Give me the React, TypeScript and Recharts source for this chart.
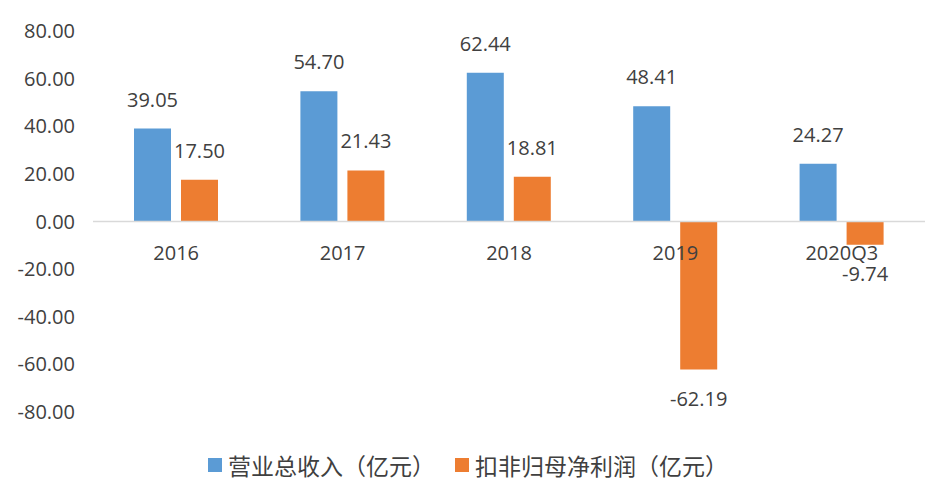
import React from "react"
import {
  BarChart, Bar, XAxis, YAxis, Legend, ReferenceLine, LabelList,
} from "recharts"

const categories = ["2016", "2017", "2018", "2019", "2020Q3"]
const revenue = [39.05, 54.7, 62.44, 48.41, 24.27]
const profit = [17.5, 21.43, 18.81, -62.19, -9.74]
const yTicks = [-80, -60, -40, -20, 0, 20, 40, 60, 80]
const seriesNames = ["营业总收入（亿元）", "扣非归母净利润（亿元）"]

const data = categories.map((name, i) => ({ name, revenue: revenue[i], profit: profit[i] }))

const W = 940
const H = 488
const TOP = 31
const PLOT_BOTTOM = 412
const LEGEND_H = 30
const XAXIS_H = 30
const ZERO_Y = TOP + (PLOT_BOTTOM - TOP) / 2

const FONT = "'Open Sans', 'Noto Sans CJK SC', sans-serif"
const TEXT = "#404040"

const CategoryTick = (props: any) => {
  const { x, payload } = props
  return (
    <text x={x} y={ZERO_Y + 31} textAnchor="middle" dominantBaseline="central"
      fontSize={20} fill={TEXT} fontFamily={FONT}>
      {payload.value}
    </text>
  )
}

const LegendContent = (props: any) => {
  const items = [...(props.payload || [])].sort(
    (a: any, b: any) => seriesNames.indexOf(a.value) - seriesNames.indexOf(b.value))
  return (
    <div style={{ display: "flex", alignItems: "center", height: LEGEND_H, fontFamily: FONT, fontSize: 23, color: TEXT, whiteSpace: "nowrap" }}>
      {items.map((it: any, i: number) => (
        <span key={i} style={{ display: "flex", alignItems: "center", marginRight: 20 }}>
          <span style={{ width: 14, height: 14, background: it.color, display: "inline-block", marginRight: 6 }} />
          {it.value}
        </span>
      ))}
    </div>
  )
}

export default function App() {
  return (
    <div style={{ position: "absolute", left: 0, top: 0, width: W, height: H, background: "#fff" }}>
      <BarChart width={W} height={H} data={data} barSize={37} barGap={10}
        margin={{ top: TOP, right: 15, left: 0, bottom: H - PLOT_BOTTOM - LEGEND_H - XAXIS_H }}>
        <ReferenceLine y={0} stroke="#D9D9D9" strokeWidth={1.5} />
        <YAxis domain={[-80, 80]} ticks={yTicks} axisLine={false} tickLine={false} width={93}
          tickMargin={12} tickFormatter={(v) => Number(v).toFixed(2)}
          tick={{ fontSize: 20, fill: TEXT, fontFamily: FONT }} interval={0} />
        <Bar dataKey="revenue" name={seriesNames[0]} fill="#5B9BD5" isAnimationActive={false}>
          <LabelList dataKey="revenue" position="top" offset={22} formatter={(v: any) => Number(v).toFixed(2)}
            style={{ fontSize: 20, fill: TEXT, fontFamily: FONT }} />
        </Bar>
        <Bar dataKey="profit" name={seriesNames[1]} fill="#ED7D31" isAnimationActive={false}>
          <LabelList dataKey="profit" position="top" offset={22} formatter={(v: any) => Number(v).toFixed(2)}
            style={{ fontSize: 20, fill: TEXT, fontFamily: FONT }} />
        </Bar>
        <XAxis dataKey="name" height={XAXIS_H} axisLine={false} tickLine={false} tick={<CategoryTick />} interval={0} />
        <Legend verticalAlign="bottom" content={<LegendContent />}
          wrapperStyle={{ left: 208, bottom: 8, width: "auto" }} />
      </BarChart>
    </div>
  )
}
